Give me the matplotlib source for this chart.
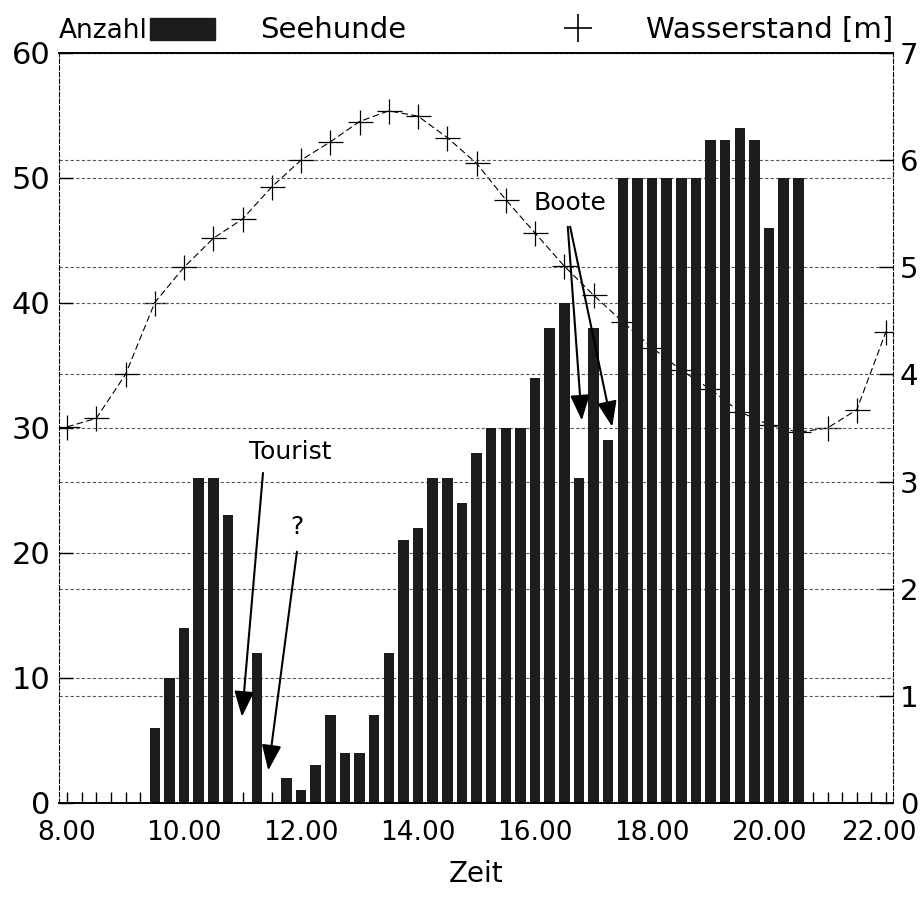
import matplotlib
matplotlib.use("Agg")
import matplotlib.pyplot as plt
from matplotlib.lines import Line2D
from matplotlib.patches import Rectangle
from matplotlib.ticker import MultipleLocator
from matplotlib.transforms import ScaledTranslation

# Seehunde counts, one bar every 15 minutes (9.30 - 20.30)
zeit_bars = [9.5, 9.75, 10.0, 10.25, 10.5, 10.75, 11.0, 11.25, 11.5, 11.75,
             12.0, 12.25, 12.5, 12.75, 13.0, 13.25, 13.5, 13.75, 14.0, 14.25,
             14.5, 14.75, 15.0, 15.25, 15.5, 15.75, 16.0, 16.25, 16.5, 16.75,
             17.0, 17.25, 17.5, 17.75, 18.0, 18.25, 18.5, 18.75, 19.0, 19.25,
             19.5, 19.75, 20.0, 20.25, 20.5]
seehunde = [6, 10, 14, 26, 26, 23, 0, 12, 0, 2,
            1, 3, 7, 4, 4, 7, 12, 21, 22, 26,
            26, 24, 28, 30, 30, 30, 34, 38, 40, 26,
            38, 29, 50, 50, 50, 50, 50, 50, 53, 53,
            54, 53, 46, 50, 50]

# Wasserstand [m], every half hour
zeit_wasser = [8.0, 8.5, 9.0, 9.5, 10.0, 10.5, 11.0, 11.5, 12.0, 12.5,
               13.0, 13.5, 14.0, 14.5, 15.0, 15.5, 16.0, 16.5, 17.0, 17.5,
               18.0, 18.5, 19.0, 19.5, 20.0, 20.5, 21.0, 21.5, 22.0]
wasserstand = [3.51, 3.59, 4.00, 4.67, 5.00, 5.27, 5.45, 5.75, 6.00, 6.17,
               6.36, 6.46, 6.41, 6.21, 5.97, 5.63, 5.32, 5.01, 4.74, 4.49,
               4.25, 4.04, 3.86, 3.65, 3.53, 3.46, 3.50, 3.67, 4.40]

x_ticks = [8, 10, 12, 14, 16, 18, 20, 22]
x_labels = ["8.00", "10.00", "12.00", "14.00", "16.00", "18.00", "20.00", "22.00"]
left_ticks = [0, 10, 20, 30, 40, 50, 60]
right_ticks = [0, 1, 2, 3, 4, 5, 6, 7]

fig = plt.figure(figsize=(9.22, 8.99), dpi=100)
ax = fig.add_axes([0.064, 0.1068, 0.9046, 0.8343])
ax2 = ax.twinx()

# tide axis sits behind the bars
ax.set_zorder(ax2.get_zorder() + 1)
ax.patch.set_visible(False)

grid_kw = dict(color="0.35", lw=0.8, ls=(0, (3, 2)))

ax2.plot(zeit_wasser, wasserstand, color="black", lw=0.8, ls=(0, (6, 3)),
         marker="+", markersize=18, markeredgewidth=0.9)
ax2.set_ylim(0, 7)
ax2.set_yticks(right_ticks)
ax2.grid(axis="y", **grid_kw)
ax2.tick_params(axis="y", direction="in", length=10, width=1, labelsize=21, pad=5)
for s in ax2.spines.values():
    s.set_visible(False)

ax.bar(zeit_bars, seehunde, width=0.18, color="#1c1c1c")
ax.set_xlim(7.863, 22.12)
ax.set_ylim(0, 60)
ax.set_yticks(left_ticks)
ax.set_axisbelow(True)
ax.grid(axis="y", **grid_kw)
ax.set_xticks(x_ticks)
ax.set_xticklabels(x_labels)
ax.xaxis.set_minor_locator(MultipleLocator(0.25))
ax.tick_params(axis="x", which="both", direction="in", length=8, width=1,
               labelsize=19, pad=12)
ax.tick_params(axis="y", direction="in", length=10, width=1, labelsize=22, pad=6)
ax.set_xlabel("Zeit", fontsize=20, labelpad=10)

# keep the last time label inside the picture
last = ax.get_xticklabels()[-1]
last.set_transform(last.get_transform() + ScaledTranslation(-5 / 72, 0, fig.dpi_scale_trans))

for side in ["left", "right"]:
    ax.spines[side].set_linestyle((0, (4, 2)))
    ax.spines[side].set_linewidth(0.8)
ax.spines["top"].set_linewidth(1.4)
ax.spines["bottom"].set_linewidth(1.4)

# annotations
arrow_kw = dict(arrowstyle="-|>,head_length=1.3,head_width=0.5", color="black",
                lw=1.5, shrinkA=0, shrinkB=0, mutation_scale=12)
ax.text(11.81, 28.1, "Tourist", fontsize=18, ha="center", va="center")
ax.annotate("", xy=(10.99, 6.9), xytext=(11.35, 26.4), arrowprops=arrow_kw)
ax.text(11.93, 22.1, "?", fontsize=18, ha="center", va="center")
ax.annotate("", xy=(11.44, 2.6), xytext=(11.93, 20.1), arrowprops=arrow_kw)
ax.text(16.60, 48.0, "Boote", fontsize=18, ha="center", va="center")
ax.annotate("", xy=(16.80, 30.6), xytext=(16.56, 46.1), arrowprops=arrow_kw)
ax.annotate("", xy=(17.32, 30.1), xytext=(16.60, 46.1), arrowprops=arrow_kw)

# legend line above the plot
fig.text(0.064, 0.958, "Anzahl", fontsize=19, ha="left", va="baseline")
fig.patches.append(Rectangle((0.1627, 0.9555), 0.0705, 0.0245,
                             transform=fig.transFigure, color="#1c1c1c"))
fig.text(0.282, 0.958, "Seehunde", fontsize=21, ha="left", va="baseline")
fig.add_artist(Line2D([0.627], [0.969], marker="+", markersize=20,
                      markeredgewidth=1.2, color="black",
                      transform=fig.transFigure))
fig.text(0.9685, 0.958, "Wasserstand [m]", fontsize=21, ha="right", va="baseline")

fig.savefig("out.png", dpi=100)
